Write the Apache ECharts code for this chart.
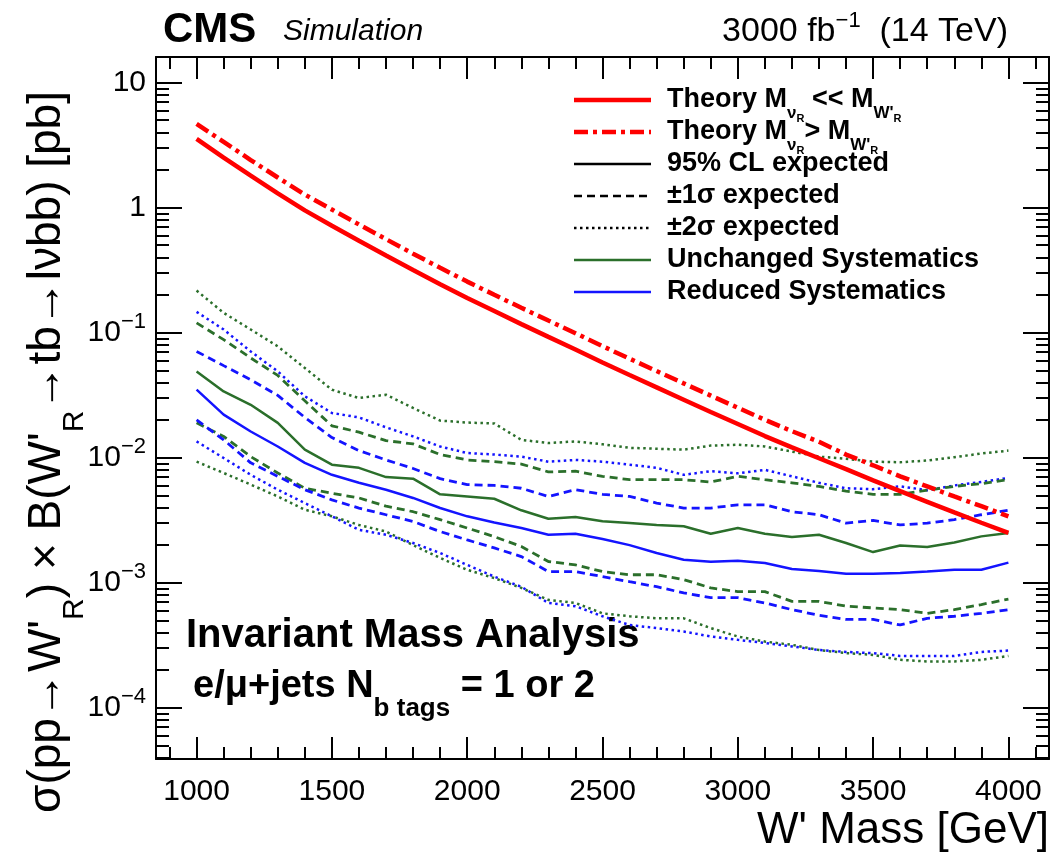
<!DOCTYPE html>
<html>
<head>
<meta charset="utf-8">
<script src="https://cdn.jsdelivr.net/npm/echarts@6/dist/echarts.min.js"></script>
<style>html,body{margin:0;background:#fff}#chart{width:1052px;height:856px}</style>
</head>
<body>
<div id="chart"></div>
<script>
// W' -> tb expected limits, HL-LHC projection (pb)
const mass = [1000, 1100, 1200, 1300, 1400, 1500, 1600, 1700, 1800, 1900, 2000,
  2100, 2200, 2300, 2400, 2500, 2600, 2700, 2800, 2900, 3000,
  3100, 3200, 3300, 3400, 3500, 3600, 3700, 3800, 3900, 4000];

const theoryLight = [3.55, 2.51, 1.80, 1.30, 0.95, 0.716, 0.543, 0.414, 0.317, 0.244, 0.189,
  0.149, 0.117, 0.0925, 0.0733, 0.0577, 0.0458, 0.0365, 0.0291, 0.0232, 0.0186,
  0.0149, 0.0121, 0.0099, 0.0081, 0.0066, 0.0054, 0.00444, 0.00365, 0.00302, 0.00251];
const theoryHeavy = [4.68, 3.35, 2.40, 1.74, 1.27, 0.965, 0.733, 0.559, 0.428, 0.330, 0.256,
  0.201, 0.158, 0.125, 0.099, 0.078, 0.0619, 0.0493, 0.0393, 0.0314, 0.0251,
  0.0201, 0.0163, 0.0134, 0.0106, 0.0087, 0.0071, 0.0059, 0.0049, 0.0041, 0.0034];

// unchanged systematics (green)
const unchExp = [0.049, 0.0339, 0.0265, 0.019, 0.0116, 0.0088, 0.0083, 0.0070, 0.0068, 0.0051, 0.0049,
  0.0047, 0.0038, 0.00325, 0.00336, 0.0031, 0.0030, 0.0029, 0.00283, 0.00247, 0.00274,
  0.00247, 0.00232, 0.00242, 0.00208, 0.00176, 0.00199, 0.00193, 0.0021, 0.00235, 0.0025];
const unchP1 = [0.1197, 0.0879, 0.0628, 0.0455, 0.0285, 0.0180, 0.0160, 0.0137, 0.0129, 0.0106, 0.0096,
  0.0093, 0.0089, 0.0077, 0.0078, 0.0071, 0.00667, 0.00667, 0.00667, 0.0064, 0.0071,
  0.00667, 0.0063, 0.0059, 0.0054, 0.0051, 0.0051, 0.0055, 0.0059, 0.0062, 0.0067];
const unchM1 = [0.019, 0.0148, 0.0102, 0.00755, 0.0057, 0.0052, 0.00477, 0.0041, 0.0037, 0.0032, 0.00274,
  0.00234, 0.00195, 0.00148, 0.00139, 0.00123, 0.00116, 0.00116, 0.00106, 0.00091, 0.00085,
  0.00085, 0.00071, 0.00071, 0.00065, 0.00063, 0.00061, 0.00057, 0.00061, 0.00067, 0.00074];
const unchP2 = [0.217, 0.144, 0.106, 0.0777, 0.0522, 0.035, 0.030, 0.0319, 0.025, 0.0198, 0.0191,
  0.0188, 0.0139, 0.0131, 0.0135, 0.0128, 0.0120, 0.0118, 0.0116, 0.0125, 0.0127,
  0.0123, 0.0112, 0.0102, 0.0098, 0.0093, 0.0092, 0.0095, 0.0101, 0.0108, 0.0114];
const unchM2 = [0.0093, 0.00755, 0.0061, 0.0049, 0.00384, 0.0034, 0.0029, 0.00257, 0.0020, 0.00158, 0.00127,
  0.00109, 0.00091, 0.00073, 0.00069, 0.00057, 0.00054, 0.00052, 0.00052, 0.000434, 0.000372,
  0.000339, 0.000319, 0.00029, 0.000274, 0.000265, 0.000242, 0.000235, 0.000235, 0.000242, 0.00026];

// reduced systematics (blue)
const redExp = [0.035, 0.0221, 0.0162, 0.0123, 0.0091, 0.0073, 0.0063, 0.00555, 0.00477, 0.00396, 0.0034,
  0.00303, 0.00274, 0.00242, 0.00247, 0.00224, 0.0020, 0.00173, 0.00153, 0.00147, 0.0015,
  0.00144, 0.00129, 0.00124, 0.00118, 0.00118, 0.0012, 0.00123, 0.00127, 0.00127, 0.00145];
const redP1 = [0.0708, 0.0545, 0.042, 0.0315, 0.021, 0.0145, 0.0114, 0.0096, 0.0082, 0.0068, 0.0061,
  0.0060, 0.0057, 0.0049, 0.00555, 0.0051, 0.0049, 0.00434, 0.00396, 0.00396, 0.0042,
  0.0042, 0.0037, 0.0035, 0.0030, 0.00315, 0.0029, 0.0030, 0.0032, 0.0035, 0.0038];
const redM1 = [0.0201, 0.0139, 0.0091, 0.0071, 0.00555, 0.0046, 0.00396, 0.0035, 0.00309, 0.00257, 0.0022,
  0.0019, 0.00162, 0.00123, 0.00123, 0.00112, 0.00102, 0.00093, 0.00083, 0.00076, 0.00076,
  0.00069, 0.00061, 0.00055, 0.00051, 0.00051, 0.00046, 0.00052, 0.00054, 0.00057, 0.00061];
const redP2 = [0.1466, 0.106, 0.0708, 0.049, 0.031, 0.0228, 0.021, 0.0175, 0.0148, 0.0123, 0.0109,
  0.0106, 0.0102, 0.0093, 0.0096, 0.0093, 0.0088, 0.0083, 0.0073, 0.0078, 0.0075,
  0.0080, 0.0071, 0.0063, 0.0057, 0.0056, 0.0059, 0.0055, 0.0060, 0.0064, 0.0069];
const redM2 = [0.0135, 0.00995, 0.0073, 0.00555, 0.00434, 0.0034, 0.00265, 0.00242, 0.00208, 0.00173, 0.00139,
  0.00112, 0.00093, 0.00069, 0.00065, 0.00054, 0.00046, 0.000434, 0.000408, 0.000372, 0.00035,
  0.00033, 0.00031, 0.00029, 0.00028, 0.000274, 0.00026, 0.00026, 0.00026, 0.00028, 0.000287];

const xMajor = [1000, 1500, 2000, 2500, 3000, 3500, 4000];
const xMinor = [900, 1100, 1200, 1300, 1400, 1600, 1700, 1800, 1900, 2100, 2200, 2300, 2400,
  2600, 2700, 2800, 2900, 3100, 3200, 3300, 3400, 3600, 3700, 3800, 3900, 4100];
const yMajor = [1e-4, 1e-3, 1e-2, 1e-1, 1, 10];
const yMinorSteps = [2, 3, 4, 5, 6, 7, 8, 9];
const yMin = 3.9e-5, yMax = 16;
const yMinor = [];
for (const p of [1e-5, 1e-4, 1e-3, 1e-2, 1e-1, 1, 10]) {
  for (const k of yMinorSteps) {
    const v = +(k * p).toPrecision(3);
    if (v > yMin && v < yMax) yMinor.push(v);
  }
}

const F = '"Liberation Sans", Arial, sans-serif';
const RED = '#ff0000', GREEN = '#2b6f2b', BLUE = '#1414ff', INK = '#000';
const DASH = [8, 5], DOT = [2.5, 3.5], DASHDOT = [14, 5, 4, 5];

const pts = ys => mass.map((m, i) => [m, ys[i]]);
function curve(name, ys, color, width, type, z) {
  return {
    name, type: 'line', data: pts(ys), symbol: 'none', showSymbol: false,
    lineStyle: { color, width, type }, z: z || 2, silent: true,
  };
}

function powLabel(v) {
  const e = Math.round(Math.log10(v));
  if (e === 0) return '1';
  if (e === 1) return '10';
  return '{b|10}{s|\u2212' + (-e) + '}';
}

const tickStyle = { color: INK, width: 2 };
const frame = { show: true, lineStyle: { color: INK, width: 2 } };

function xAx(pos, vals, len, line, labels) {
  return {
    type: 'value', position: pos, min: 850, max: 4150,
    axisLine: line ? frame : { show: false },
    axisTick: { show: true, inside: true, length: len, customValues: vals, lineStyle: tickStyle },
    axisLabel: labels
      ? { show: true, customValues: vals, formatter: v => String(v), fontSize: 30, fontFamily: F, color: INK, margin: 18 }
      : { show: false },
    splitLine: { show: false },
  };
}
function yAx(pos, vals, len, line, labels) {
  return {
    type: 'log', logBase: 10, position: pos, min: yMin, max: yMax,
    axisLine: line ? frame : { show: false },
    axisTick: { show: true, inside: true, length: len, customValues: vals, lineStyle: tickStyle },
    axisLabel: labels
      ? {
          show: true, customValues: vals, formatter: powLabel, fontSize: 30, fontFamily: F,
          color: INK, margin: 10,
          rich: {
            b: { fontSize: 30, fontFamily: F, color: INK, lineHeight: 36 },
            s: { fontSize: 22, fontFamily: F, color: INK, lineHeight: 36, padding: [0, 0, 22, 0] },
          },
        }
      : { show: false },
    splitLine: { show: false }, minorTick: { show: false },
  };
}

const xAxes = [
  xAx('bottom', xMajor, 22, true, true),
  xAx('bottom', xMinor, 12, false, false),
  xAx('top', xMajor, 22, true, false),
  xAx('top', xMinor, 12, false, false),
];
xAxes[0].name = "W' Mass [GeV]";
xAxes[0].nameLocation = 'end';
xAxes[0].nameGap = 0;
xAxes[0].nameMoveOverlap = false;
xAxes[0].nameTextStyle = {
  fontSize: 44, fontFamily: F, color: INK, align: 'right', verticalAlign: 'top', padding: [50, 0, 0, 0],
};

const yAxes = [
  yAx('left', yMajor, 26, true, true),
  yAx('left', yMinor, 13, false, false),
  yAx('right', yMajor, 26, true, false),
  yAx('right', yMinor, 13, false, false),
];

// legend drawn as graphic rows
const sub = { fontSize: 17, fontWeight: 'bold', fontFamily: F, lineHeight: 30, padding: [26, 0, 0, 0] };
const subsub = { fontSize: 11, fontWeight: 'bold', fontFamily: F, lineHeight: 30, padding: [38, 0, 0, 0] };
const main = { fontSize: 27, fontWeight: 'bold', fontFamily: F, lineHeight: 30 };
const legendRows = [
  { text: "{m|Theory M}{s|\u03bd}{ss|R}{m| << M}{s|W'}{ss|R}", color: RED, width: 4.5, dash: null },
  { text: "{m|Theory M}{s|\u03bd}{ss|R}{m|> M}{s|W'}{ss|R}", color: RED, width: 4.5, dash: DASHDOT },
  { text: '{m|95% CL expected}', color: INK, width: 2.5, dash: null },
  { text: '{m|\u00b11\u03c3 expected}', color: INK, width: 2.5, dash: DASH },
  { text: '{m|\u00b12\u03c3 expected}', color: INK, width: 2.5, dash: DOT },
  { text: '{m|Unchanged Systematics}', color: GREEN, width: 2.5, dash: null },
  { text: '{m|Reduced Systematics}', color: BLUE, width: 2.5, dash: null },
];
const legendGraphics = [];
legendRows.forEach((r, i) => {
  const y = 100 + i * 32;
  legendGraphics.push({
    type: 'line', shape: { x1: 574, y1: y, x2: 651, y2: y },
    style: { stroke: r.color, lineWidth: r.width, lineDash: r.dash || null }, silent: true,
  });
  legendGraphics.push({
    type: 'text', x: 667, y: y,
    style: { text: r.text, fill: INK, textVerticalAlign: 'middle', rich: { m: main, s: sub, ss: subsub } },
    silent: true,
  });
});

const texts = [
  { type: 'text', x: 163, y: 30, style: { text: 'CMS', font: 'bold 42px ' + F, fill: INK, textVerticalAlign: 'middle' } },
  { type: 'text', x: 283, y: 32, style: { text: 'Simulation', font: 'italic 30px ' + F, fill: INK, textVerticalAlign: 'middle' } },
  {
    type: 'text', x: 1008, y: 32,
    style: {
      text: '{n|3000 fb}{s|\u22121}{n|  (14 TeV)}', fill: INK, textAlign: 'right', textVerticalAlign: 'middle',
      rich: {
        n: { fontSize: 34, fontFamily: F, lineHeight: 40 },
        s: { fontSize: 22, fontFamily: F, lineHeight: 40, padding: [0, 0, 22, 0] },
      },
    },
  },
  {
    type: 'text', x: 47, y: 452, rotation: Math.PI / 2,
    style: {
      text: "{m|\u03c3(pp\u2192W'}{r|R}{m|) \u00d7 B(W'}{r|R}{m|\u2192tb\u2192l\u03bdbb) [pb]}",
      fill: INK, textAlign: 'center', textVerticalAlign: 'middle',
      rich: {
        m: { fontSize: 46, fontFamily: F, lineHeight: 52 },
        r: { fontSize: 30, fontFamily: F, lineHeight: 52, padding: [56, 0, 0, 0] },
      },
    },
  },
  { type: 'text', x: 186, y: 636, style: { text: 'Invariant Mass Analysis', font: 'bold 40px ' + F, fill: INK, textVerticalAlign: 'middle' } },
  {
    type: 'text', x: 193, y: 687,
    style: {
      text: '{m|e/\u03bc+jets N}{s|b tags}{m| = 1 or 2}', fill: INK, textVerticalAlign: 'middle',
      rich: {
        m: { fontSize: 38, fontWeight: 'bold', fontFamily: F, lineHeight: 44 },
        s: { fontSize: 26, fontWeight: 'bold', fontFamily: F, lineHeight: 44, padding: [44, 0, 0, 0] },
      },
    },
  },
];

const chart = echarts.init(document.getElementById('chart'), null, { renderer: 'canvas' });
chart.setOption({
  animation: false,
  backgroundColor: '#fff',
  grid: { left: 156, right: 3, top: 57, bottom: 97, containLabel: false, outerBoundsMode: 'none' },
  xAxis: xAxes,
  yAxis: yAxes,
  series: [
    curve('Unchanged +2\u03c3', unchP2, GREEN, 2.5, DOT),
    curve('Unchanged -2\u03c3', unchM2, GREEN, 2.5, DOT),
    curve('Reduced +2\u03c3', redP2, BLUE, 2.5, DOT),
    curve('Reduced -2\u03c3', redM2, BLUE, 2.5, DOT),
    curve('Unchanged +1\u03c3', unchP1, GREEN, 2.8, DASH),
    curve('Unchanged -1\u03c3', unchM1, GREEN, 2.8, DASH),
    curve('Reduced +1\u03c3', redP1, BLUE, 2.8, DASH),
    curve('Reduced -1\u03c3', redM1, BLUE, 2.8, DASH),
    curve('Unchanged Systematics', unchExp, GREEN, 2.5, 'solid'),
    curve('Reduced Systematics', redExp, BLUE, 2.5, 'solid'),
    curve('Theory light nu', theoryLight, RED, 4.5, 'solid', 3),
    curve('Theory heavy nu', theoryHeavy, RED, 4.5, DASHDOT, 3),
  ],
  graphic: texts.concat(legendGraphics),
});
</script>
</body>
</html>
